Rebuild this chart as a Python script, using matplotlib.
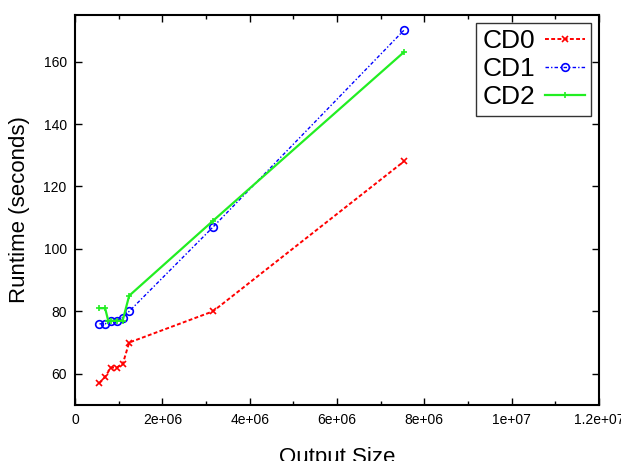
import matplotlib
matplotlib.use("Agg")
import matplotlib.pyplot as plt
from matplotlib.ticker import MultipleLocator

# Output sizes (shared across the three configurations)
output_size = [0.56e6, 0.69e6, 0.82e6, 0.95e6, 1.09e6, 1.24e6, 3.16e6, 7.53e6]

# Runtimes in seconds
cd0 = [57, 59, 62, 62, 63, 70, 80, 128]
cd1 = [76, 76, 77, 77, 78, 80, 107, 170]
cd2_x = [0.56e6, 0.69e6, 0.76e6, 0.82e6, 0.95e6, 1.09e6, 1.24e6, 3.16e6, 7.53e6]
cd2 = [81, 81, 77, 77, 77, 77, 85, 109, 163]

x_ticks = [0, 2e6, 4e6, 6e6, 8e6, 1e7, 1.2e7]
x_tick_labels = ["0", "2e+06", "4e+06", "6e+06", "8e+06", "1e+07", "1.2e+07"]
y_ticks = [60, 80, 100, 120, 140, 160]

plt.rcParams['font.family'] = ['Liberation Sans', 'DejaVu Sans']

fig = plt.figure(figsize=(6.21, 4.61), dpi=100)
ax = fig.add_axes([0.1208, 0.1215, 0.8438, 0.8465])

ax.plot(output_size, cd0, color='#ff0000', linestyle=(0, (2, 1.2)), linewidth=1.4,
        marker='x', markersize=5, markeredgewidth=1.2, label='CD0')
ax.plot(output_size, cd1, color='#0000ff', linestyle=(0, (2.5, 1.5, 1, 1.5)), linewidth=1.0,
        marker='o', markersize=5.5, fillstyle='none', markeredgewidth=1.2, label='CD1')
ax.plot(cd2_x, cd2, color='#22ee22', linestyle='-', linewidth=1.6,
        marker='+', markersize=5, markeredgewidth=1.2, label='CD2')

ax.set_xlim(0, 1.2e7)
ax.set_ylim(50, 175)
ax.set_xticks(x_ticks)
ax.set_xticklabels(x_tick_labels)
ax.xaxis.set_minor_locator(MultipleLocator(1e6))
ax.set_yticks(y_ticks)

ax.tick_params(which='both', direction='in', top=True, right=True, labelsize=10, width=1.0)
ax.tick_params(which='major', length=5, pad=6)
ax.tick_params(which='minor', length=3)
for s in ax.spines.values():
    s.set_linewidth(1.5)

ax.set_xlabel('Output Size', fontsize=16, labelpad=14)
ax.set_ylabel('Runtime (seconds)', fontsize=16, labelpad=10)

leg = ax.legend(loc='upper right', fontsize=19, markerfirst=False, handlelength=1.5,
                frameon=True, fancybox=False, borderaxespad=0.3, labelspacing=0.15,
                handletextpad=0.35, borderpad=0.25)
leg.get_frame().set_edgecolor('black')
leg.get_frame().set_linewidth(1.0)

fig.savefig('out.png', dpi=100)
